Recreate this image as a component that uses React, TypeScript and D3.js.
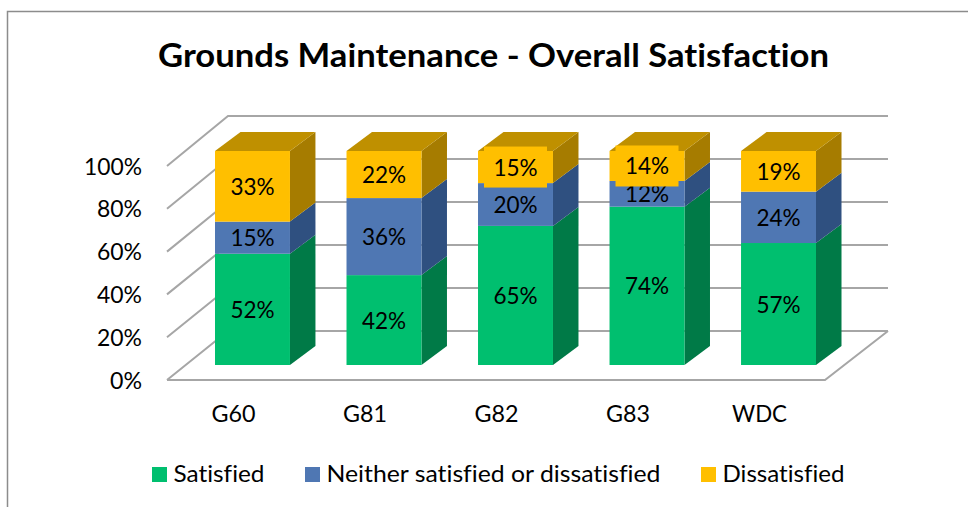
import React from 'react';
import * as d3 from 'd3';

const title = 'Grounds Maintenance - Overall Satisfaction';
const categories = ['G60', 'G81', 'G82', 'G83', 'WDC'];
const satisfied = [52, 42, 65, 74, 57];
const neither = [15, 36, 20, 12, 24];
const dissatisfied = [33, 22, 15, 14, 19];
const seriesNames = ['Satisfied', 'Neither satisfied or dissatisfied', 'Dissatisfied'];
const frontColors = ['#00BF6F', '#4F77B3', '#FFBF00'];
const sideColors = ['#007A47', '#2F5080', '#A67C00'];
const topColor = '#BF9000';
const yTicks = [0, 20, 40, 60, 80, 100];
const FONT = 'Lato, "Open Sans", sans-serif';

const W = 968, H = 507;
const depthX = 25.5, depthY = 19;
const FS = 24;

const pctWidth = (s: string) => (s.length - 1) * 12.1 + 20;
const tickWidth = (s: string) => (s.length - 1) * 13 + 19;

export default function App() {
  const y = d3.scaleLinear().domain([0, 100]).range([365, 151]);
  const yFront = d3.scaleLinear().domain([0, 100]).range([380, 166]);
  const yBack = d3.scaleLinear().domain([0, 100]).range([331, 116]);
  const x = d3.scaleBand().domain(categories).range([215, 816]).paddingInner(0.43).paddingOuter(0);
  const series = [satisfied, neither, dissatisfied];
  const stacked = d3.stack<any, number>().keys([0, 1, 2] as any).value((_d, k) => series[k as any][_d])(categories.map((_, i) => i) as any);
  const poly = (pts: number[][]) => pts.map(p => p.join(',')).join(' ');
  const grid = '#A6A6A6';
  const legendSwatchX = d3.scaleOrdinal<string, number>().domain(seriesNames).range([152, 305, 701]);
  const legendWidth = d3.scaleOrdinal<string, number>().domain(seriesNames).range([91, 334, 122]);
  return (
    <svg width={W} height={H} style={{ position: 'absolute', left: 0, top: 0, background: '#fff', fontVariantLigatures: 'none' }} fontFamily={FONT}>
      <path d={`M7.5,${H} V11.5 H${W}`} fill="none" stroke="#8C8C8C" strokeWidth={1.5} />
      <text x={493.5} y={67} textAnchor="middle" fontSize={33} fontWeight={700} fill="#000" textLength={671} lengthAdjust="spacingAndGlyphs">{title}</text>

      {yTicks.map(t => (
        <g key={t}>
          <polyline points={poly([[167, yFront(t)], [228, yBack(t)], [888, yBack(t)]])} fill="none" stroke={grid} strokeWidth={2} />
          <text x={142} y={yFront(t) + 8.5} textAnchor="end" fontSize={FS} fill="#000" textLength={tickWidth(`${t}%`)} lengthAdjust="spacingAndGlyphs">{t}%</text>
        </g>
      ))}
      <polyline points={poly([[167, yFront(0)], [825, yFront(0)], [888, yBack(0)]])} fill="none" stroke={grid} strokeWidth={2} />

      {categories.map((c, i) => {
        const x0 = x(c)!, x1 = x0 + x.bandwidth();
        return (
          <g key={c}>
            {stacked.map((s, k) => {
              const y0 = y(s[i][0]), y1 = y(s[i][1]);
              return (
                <g key={k}>
                  <polygon points={poly([[x1, y0], [x1 + depthX, y0 - depthY], [x1 + depthX, y1 - depthY], [x1, y1]])} fill={sideColors[k]} />
                  <rect x={x0} y={y1} width={x.bandwidth()} height={y0 - y1} fill={frontColors[k]} />
                </g>
              );
            })}
            <polygon points={poly([[x0, y(100)], [x0 + depthX, y(100) - depthY], [x1 + depthX, y(100) - depthY], [x1, y(100)]])} fill={topColor} />
          </g>
        );
      })}

      {categories.map((c, i) => {
        const cx = x(c)! + x.bandwidth() / 2;
        return (
          <g key={c}>
            {stacked.map((s, k) => {
              const val = series[k][i];
              const ym = (y(s[i][0]) + y(s[i][1])) / 2;
              const boxed = k === 2 && val <= 15;
              return (
                <g key={k}>
                  {boxed && <rect x={cx - 31.5} y={ym - 20.5} width={63} height={41} fill={frontColors[2]} />}
                  <text x={cx} y={ym + 8.5} textAnchor="middle" fontSize={FS} fill="#000" textLength={pctWidth(`${val}%`)} lengthAdjust="spacingAndGlyphs">{val}%</text>
                </g>
              );
            })}
            <text x={cx - 19} y={422} textAnchor="middle" fontSize={FS} fill="#000" textLength={c === 'WDC' ? 55 : 44} lengthAdjust="spacingAndGlyphs">{c}</text>
          </g>
        );
      })}

      {seriesNames.map((n, k) => {
        const sx = legendSwatchX(n);
        return (
          <g key={n}>
            <rect x={sx} y={467} width={15} height={15} fill={frontColors[k]} />
            <text x={sx + 21.5} y={482} fontSize={FS} fill="#000" textLength={legendWidth(n)} lengthAdjust="spacingAndGlyphs">{n}</text>
          </g>
        );
      })}
    </svg>
  );
}
